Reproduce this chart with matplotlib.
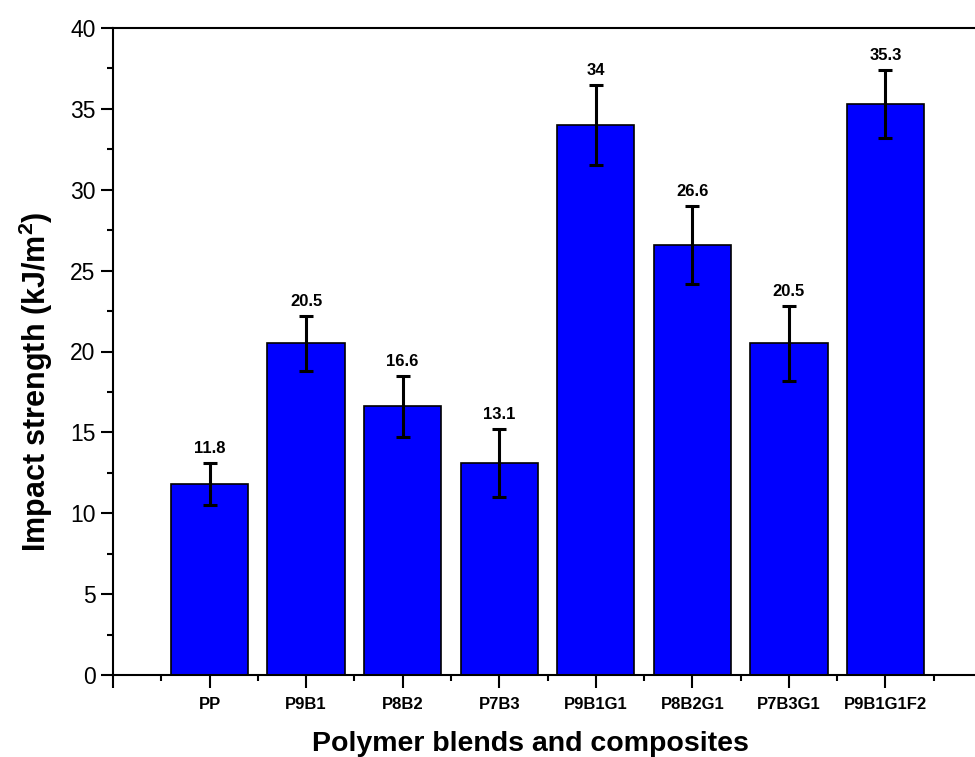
import matplotlib
matplotlib.use("Agg")
import matplotlib.pyplot as plt
from matplotlib.ticker import MultipleLocator

# Impact strength of the blends / composites
samples = ["PP", "P9B1", "P8B2", "P7B3", "P9B1G1", "P8B2G1", "P7B3G1", "P9B1G1F2"]
strength = [11.8, 20.5, 16.6, 13.1, 34.0, 26.6, 20.5, 35.3]
strength_err = [1.3, 1.7, 1.9, 2.1, 2.5, 2.4, 2.3, 2.1]
value_labels = ["11.8", "20.5", "16.6", "13.1", "34", "26.6", "20.5", "35.3"]

plt.rcParams["font.family"] = ["Liberation Sans", "DejaVu Sans"]
plt.rcParams["mathtext.fontset"] = "custom"
plt.rcParams["mathtext.rm"] = "Liberation Sans:bold"
plt.rcParams["mathtext.bf"] = "Liberation Sans:bold"

fig = plt.figure(figsize=(9.75, 7.57), dpi=100)
# right edge of the frame is cut off in the original, so the axes run past the figure
ax = fig.add_axes([113 / 975, 82 / 757, 869 / 975, 647 / 757])

x = list(range(len(samples)))
ax.bar(x, strength, width=0.8, color="#0000FF", edgecolor="black", linewidth=1.2, zorder=2)
ax.errorbar(x, strength, yerr=strength_err, fmt="none", ecolor="black",
            elinewidth=2.2, capsize=5, capthick=2.2, zorder=3)

for xi, v, e, lab in zip(x, strength, strength_err, value_labels):
    ax.annotate(lab, (xi, v + e), xytext=(0, 5), textcoords="offset points",
                ha="center", va="bottom", fontsize=12, fontweight="bold")

ax.set_xlim(-1, 8)
ax.set_ylim(0, 40)
ax.set_xticks([-1] + x)
ax.set_xticklabels([""] + samples, fontsize=12, fontweight="bold")
ax.xaxis.set_minor_locator(MultipleLocator(1, offset=0.5))
ax.yaxis.set_major_locator(MultipleLocator(5))
ax.yaxis.set_minor_locator(MultipleLocator(2.5))
ax.tick_params(axis="both", which="major", direction="out", length=9, width=1.5)
ax.tick_params(axis="both", which="minor", direction="out", length=4.5, width=1.5)
ax.tick_params(axis="y", labelsize=16.5)
ax.tick_params(axis="x", pad=7)

for s in ax.spines.values():
    s.set_linewidth(1.5)

ax.set_xlabel("Polymer blends and composites", fontsize=20.5, fontweight="bold")
ax.set_ylabel(r"Impact strength (kJ/m$^{2}$)", fontsize=22, fontweight="bold")
ax.xaxis.set_label_coords(0.48, -0.086)
ax.yaxis.set_label_coords(-0.067, 0.454)

fig.savefig("out.png", dpi=100)
